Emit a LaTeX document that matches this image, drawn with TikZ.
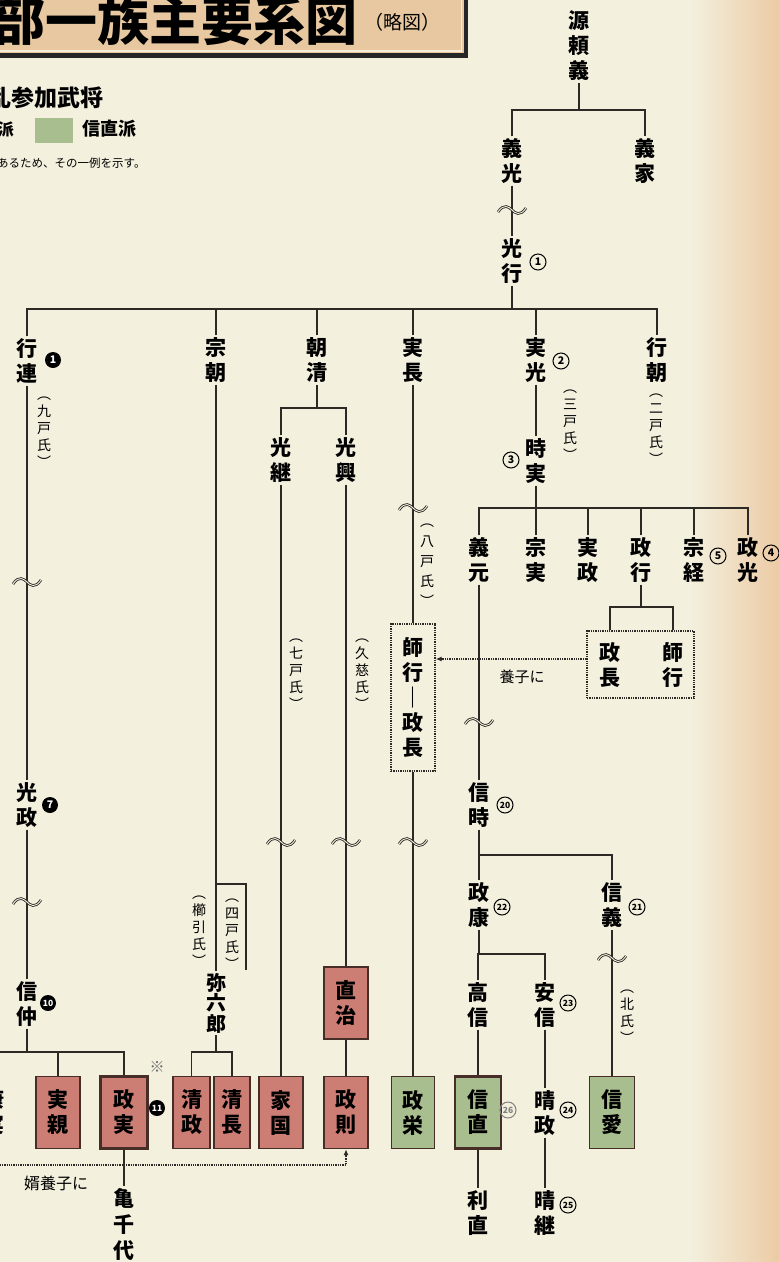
\documentclass[tikz,border=0pt]{standalone}
\usepackage{fontspec}
\setmainfont{Noto Sans CJK JP}
\usetikzlibrary{arrows.meta}
\definecolor{bgc}{RGB}{243,240,222}
\definecolor{peach}{RGB}{236,203,165}
\definecolor{tbox}{RGB}{232,200,160}
\definecolor{tline}{RGB}{246,236,216}
\definecolor{lk}{RGB}{45,42,38}
\definecolor{bd}{RGB}{70,45,40}
\definecolor{redf}{RGB}{205,126,116}
\definecolor{grnf}{RGB}{168,190,142}
\tikzset{
  nm/.style={font=\bfseries\fontsize{21}{25}\selectfont,align=center,inner sep=2pt,text=black},
  sm/.style={font=\fontsize{14}{17}\selectfont,align=center,inner sep=0pt,text=black},
  ln/.style={draw=lk,line width=1.3pt},
  dl/.style={draw=lk,line width=1.3pt,densely dotted},
  dbox/.style={draw=lk,line width=1.3pt,densely dotted},
  rbox/.style={nm,draw=bd,fill=redf,line width=1.4pt,minimum height=72pt,inner sep=0pt},
  gbox/.style={nm,draw=bd,fill=grnf,line width=1.4pt,minimum height=72pt,inner sep=0pt},
  numc/.style={circle,draw=black,line width=1pt,inner sep=0pt,minimum size=16pt,font=\bfseries\fontsize{10.5}{10.5}\selectfont},
  numcc/.style={numc,font=\bfseries\fontsize{8.5}{8.5}\selectfont},
  numb/.style={circle,fill=black,text=white,inner sep=0pt,minimum size=16pt,font=\bfseries\fontsize{10.5}{10.5}\selectfont},
  wv/.pic={
    \draw[line width=2.6pt,draw=lk] (-14,2) .. controls (-8,-7) and (-3,-3) .. (0,0) .. controls (3,3) and (8,7) .. (14,-2);
    \draw[line width=0.9pt,draw=bgc] (-14,2) .. controls (-8,-7) and (-3,-3) .. (0,0) .. controls (3,3) and (8,7) .. (14,-2);
  }
}
\begin{document}
\begin{tikzpicture}[x=1pt,y=-1pt]
\useasboundingbox (0,0) rectangle (779,1262);
\fill[bgc] (0,0) rectangle (779,1262);
\shade[left color=bgc,right color=peach] (690,0) rectangle (779,1262);

% title box
\fill[tbox] (-10,-10) rectangle (466,55);
\draw[line width=1.5pt,draw=tline] (-10,51) -- (461.5,51) -- (461.5,-10);
\draw[line width=4.5pt,draw=black!85] (-10,55.5) -- (466,55.5) -- (466,-10);
\node[font=\bfseries\fontsize{52}{52}\selectfont,anchor=east,inner sep=0pt] (title) at (358,21) {部一族主要系図};
\node[font=\fontsize{19}{19}\selectfont,anchor=west,inner sep=0pt] (ryaku) at (364,22) {（略図）};

% legend
\node[font=\bfseries\fontsize{23}{23}\selectfont,anchor=west,inner sep=0pt] (lg1) at (-12,98) {乱参加武将};
\node[font=\bfseries\fontsize{16}{16}\selectfont,anchor=east,inner sep=0pt] (lg2) at (14,129) {派};
\node[fill=grnf,minimum width=38pt,minimum height=25pt,inner sep=0pt] (sw) at (54,130.5) {};
\node[font=\bfseries\fontsize{18}{18}\selectfont,anchor=west,inner sep=0pt] (lg3) at (82,129) {信直派};
\node[font=\fontsize{11.5}{12}\selectfont,anchor=west,inner sep=0pt] (lg4) at (-3,163) {あるため、その一例を示す。};

% bar coordinates
\coordinate (b1) at (0,110);
\coordinate (b2) at (0,309);
\coordinate (b3) at (0,408);
\coordinate (b4) at (0,508);
\coordinate (b5) at (0,607);
\coordinate (b6) at (0,855);
\coordinate (b7) at (0,954);
\coordinate (b8) at (0,1052);
\coordinate (b9) at (0,884);
\coordinate (b10) at (0,659);

% names
\node[nm] (yoriyoshi) at (579,46) {源\\頼\\義};
\node[nm] (yoshimitsu) at (512,161) {義\\光};
\node[nm] (yoshiie) at (645,161) {義\\家};
\node[nm] (mitsuyuki) at (512,261) {光\\行};
\node[nm] (yukitsura) at (27,361) {行\\連};
\node[nm] (munetomo) at (216,360) {宗\\朝};
\node[nm] (tomokiyo) at (317,360) {朝\\清};
\node[nm] (sanenaga) at (413,360) {実\\長};
\node[nm] (sanemitsu) at (536,360) {実\\光};
\node[nm] (yukitomo) at (657,360) {行\\朝};
\node[nm] (mitsutsugu) at (281,460) {光\\継};
\node[nm] (mitsuoki) at (346,460) {光\\興};
\node[nm] (tokizane) at (536,461) {時\\実};
\node[nm] (yoshimoto) at (479,560) {義\\元};
\node[nm] (munezane) at (536,560) {宗\\実};
\node[nm] (sanemasa) at (588,560) {実\\政};
\node[nm] (masayuki) at (641,560) {政\\行};
\node[nm] (munetsune) at (694,560) {宗\\経};
\node[nm] (masamitsu) at (748,560) {政\\光};
\node[dbox,minimum width=107pt,minimum height=67pt] (adoptbox) at (640.5,664.5) {};
\node[nm] (masanagaA) at (610,665) {政\\長};
\node[nm] (moroyukiA) at (673,665) {師\\行};
\node[nm,dbox,minimum width=44pt,minimum height=147pt] (hachinohe) at (413,697.5) {師\\行\\｜\\政\\長};
\node[nm] (mitsumasa) at (27,805) {光\\政};
\node[nm] (nobutoki) at (479,805) {信\\時};
\node[nm] (masayasu) at (479,905) {政\\康};
\node[nm] (nobuyoshi) at (612,905) {信\\義};
\node[nm] (takanobu) at (478,1005) {高\\信};
\node[nm] (yasunobu) at (545,1005) {安\\信};
\node[nm] (nobunaka) at (27,1004) {信\\仲};
\node[nm,font=\bfseries\fontsize{20}{20.5}\selectfont] (yarokuro) at (216,1003) {弥\\六\\郎};
\node[rbox,minimum width=44pt] (naoharu) at (346,1003) {直\\治};

\node[nm] (yasuzane) at (-6,1112) {康\\実};
\node[rbox,minimum width=44pt] (sanechika) at (58,1112.5) {実\\親};
\node[rbox,minimum width=47pt,line width=2.4pt] (masazane) at (124,1112.5) {政\\実};
\node[rbox,minimum width=37pt] (kiyomasa) at (191.5,1112.5) {清\\政};
\node[rbox,minimum width=36pt] (kiyonaga) at (232,1112.5) {清\\長};
\node[rbox,minimum width=44pt] (ieguni) at (281,1112.5) {家\\国};
\node[rbox,minimum width=44pt] (masanori) at (346,1112.5) {政\\則};
\node[gbox,minimum width=43pt] (masahide) at (413,1112.5) {政\\栄};
\node[gbox,minimum width=46pt,line width=2.4pt] (nobunao) at (478,1112.5) {信\\直};
\node[gbox,minimum width=45pt] (nobuchika) at (612,1112.5) {信\\愛};
\node[nm] (harumasa) at (545,1113) {晴\\政};
\node[nm] (toshinao) at (478,1213) {利\\直};
\node[nm] (harutsugu) at (545,1213) {晴\\継};
\node[nm,font=\bfseries\fontsize{21}{26}\selectfont] (kamechiyo) at (124,1224) {亀\\千\\代};

% small clan labels
\node[sm] (l9) at (44,432) {︵\\九\\戸\\氏\\︶};
\node[sm] (l3) at (570,425) {︵\\三\\戸\\氏\\︶};
\node[sm] (l2) at (656,429) {︵\\二\\戸\\氏\\︶};
\node[sm] (l7) at (296,674) {︵\\七\\戸\\氏\\︶};
\node[sm] (lk) at (362,674) {︵\\久\\慈\\氏\\︶};
\node[sm,font=\fontsize{14}{20}\selectfont] (l8) at (427,565) {︵\\八\\戸\\氏\\︶};
\node[sm] (lkushi) at (199,931) {︵\\櫛\\引\\氏\\︶};
\node[sm] (l4) at (232,934) {︵\\四\\戸\\氏\\︶};
\node[sm] (lkita) at (627,1017) {︵\\北\\氏\\︶};

% connectors: bars
\draw[ln] (yoriyoshi.south) -- (yoriyoshi.south |- b1);
\draw[ln] (yoshimitsu.north) |- (yoshiie.north |- b1) -- (yoshiie.north);

\draw[ln] (mitsuyuki.south) -- (mitsuyuki.south |- b2);
\draw[ln] (yukitsura.north) |- (yukitomo.north |- b2) -- (yukitomo.north);
\foreach \n in {munetomo,tomokiyo,sanenaga,sanemitsu} \draw[ln] (\n.north) -- (\n.north |- b2);

\draw[ln] (tomokiyo.south) -- (tomokiyo.south |- b3);
\draw[ln] (mitsutsugu.north) |- (mitsuoki.north |- b3) -- (mitsuoki.north);

\draw[ln] (tokizane.south) -- (tokizane.south |- b4);
\draw[ln] (yoshimoto.north) |- (masamitsu.north |- b4) -- (masamitsu.north);
\foreach \n in {munezane,sanemasa,masayuki,munetsune} \draw[ln] (\n.north) -- (\n.north |- b4);

\draw[ln] (masayuki.south) -- (masayuki.south |- b5);
\draw[ln] (adoptbox.north -| masanagaA) |- (moroyukiA |- b5) -- (moroyukiA |- adoptbox.north);

\draw[ln] (nobutoki.south) -- (nobutoki.south |- b6);
\draw[ln] (masayasu.north) |- (nobuyoshi.north |- b6) -- (nobuyoshi.north);

\draw[ln] (masayasu.south) -- (masayasu.south |- b7);
\draw[ln] (takanobu.north) |- (yasunobu.north |- b7) -- (yasunobu.north);

\draw[ln] (nobunaka.south) -- (nobunaka.south |- b8);
\draw[ln] (yasuzane.north) |- (masazane.north |- b8) -- (masazane.north);
\draw[ln] (sanechika.north) -- (sanechika.north |- b8);

\draw[ln] (yarokuro.south) -- (yarokuro.south |- b8);
\draw[ln] (kiyomasa.north) |- (kiyonaga.north |- b8) -- (kiyonaga.north);

% connectors: straight
\draw[ln] (yoshimitsu.south) -- (mitsuyuki.north);
\draw[ln] (yukitsura.south) -- (mitsumasa.north);
\draw[ln] (mitsumasa.south) -- (nobunaka.north);
\draw[ln] (munetomo.south) -- (yarokuro.north);
\coordinate (yotsuend) at (246,970);
\draw[ln] (munetomo.south |- b9) -| (yotsuend);
\draw[ln] (mitsutsugu.south) -- (ieguni.north);
\draw[ln] (mitsuoki.south) -- (naoharu.north);
\draw[ln] (naoharu.south) -- (masanori.north);
\draw[ln] (sanenaga.south) -- (hachinohe.north);
\draw[ln] (hachinohe.south) -- (masahide.north);
\draw[ln] (sanemitsu.south) -- (tokizane.north);
\draw[ln] (yoshimoto.south) -- (nobutoki.north);
\draw[ln] (nobuyoshi.south) -- (nobuchika.north);
\draw[ln] (takanobu.south) -- (nobunao.north);
\draw[ln] (nobunao.south) -- (toshinao.north);
\draw[ln] (yasunobu.south) -- (harumasa.north);
\draw[ln] (harumasa.south) -- (harutsugu.north);
\draw[ln] (masazane.south) -- (kamechiyo.north);

% dotted adoption arrows
\draw[dl,-{Latex[length=6pt,width=5pt]}] (adoptbox.west |- b10) -- (hachinohe.east |- b10);
\node[font=\fontsize{15}{15}\selectfont,inner sep=0pt] (yoshi) at (522,677) {養子に};
\coordinate (mstart) at (-5,1165);
\draw[dl,-{Latex[length=6pt,width=5pt]}] (mstart) -| (masanori.south);
\node[font=\fontsize{16}{16}\selectfont,inner sep=0pt] (muko) at (56,1183) {婿養子に};

% waves
\pic at (512,210) {wv};
\pic at (27,582) {wv};
\pic at (27,902) {wv};
\pic at (413,508) {wv};
\pic at (413,842) {wv};
\pic at (281,842) {wv};
\pic at (346,842) {wv};
\pic at (479,722) {wv};
\pic at (612,958) {wv};

% generation numbers
\node[numc] (n1) at (538,262) {1};
\node[numc] (n2) at (561,361) {2};
\node[numc] (n3) at (511,460) {3};
\node[numc] (n4) at (771,553) {4};
\node[numc] (n5) at (718,556) {5};
\node[numcc] (n20) at (505,805) {20};
\node[numcc] (n21) at (637,907) {21};
\node[numcc] (n22) at (502,907) {22};
\node[numcc] (n23) at (568,1003) {23};
\node[numcc] (n24) at (568,1110) {24};
\node[numcc] (n25) at (568,1205) {25};
\node[numcc,draw=gray,text=gray] (n26) at (508,1110) {26};
\node[numb] (k1) at (53,360) {1};
\node[numb] (k7) at (50,805) {7};
\node[numb,font=\bfseries\fontsize{8.5}{8.5}\selectfont] (k10) at (48,1003) {10};
\node[numb,font=\bfseries\fontsize{8.5}{8.5}\selectfont] (k11) at (157,1108) {11};
\node[font=\fontsize{15}{15}\selectfont,text=black!60,inner sep=0pt] (kome) at (157,1067) {※};
\end{tikzpicture}
\end{document}
